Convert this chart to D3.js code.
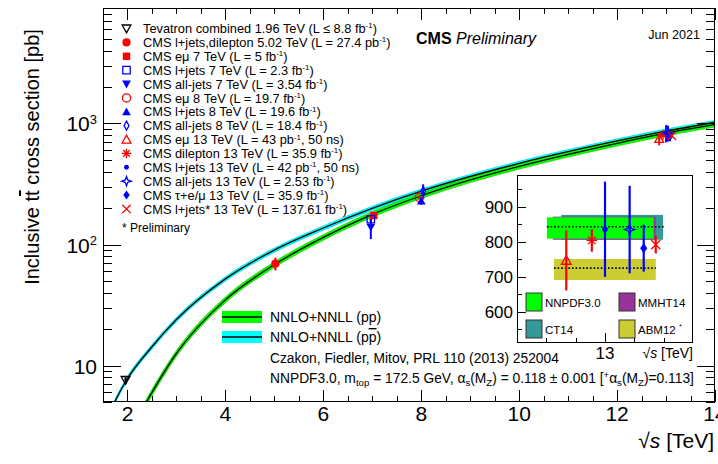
<!DOCTYPE html>
<html>
<head>
<meta charset="utf-8">
<script src="https://cdn.jsdelivr.net/npm/d3@7"></script>
<style>
  html, body { margin: 0; padding: 0; background: #fff; }
  svg { display: block; font-family: "Liberation Sans", Arial, Helvetica, sans-serif; }
</style>
</head>
<body>
<svg id="chart" width="718" height="464"></svg>
<script>
// ---------------- data ----------------
// NNLO+NNLL prediction, pp collisions (pb)
const sqrtsPP      = [2.0, 2.4, 3, 4, 5, 6, 7, 8, 9, 10, 11, 12, 13, 14];
const sigmaPP      = [2.6, 5.1, 12.6, 34.9, 68.2, 114.5, 177.3, 252.9, 341.7, 441.8, 555.4, 686.5, 831.8, 984.5];
const sigmaPPLow   = [2.45, 4.8, 11.9, 33.0, 64.6, 108.6, 168.3, 240.3, 324.8, 420.0, 528.0, 652.7, 790.8, 936.0];
const sigmaPPHigh  = [2.75, 5.4, 13.3, 36.8, 71.9, 120.6, 186.6, 265.7, 358.8, 463.6, 582.7, 720.2, 872.6, 1032.7];
// NNLO+NNLL prediction, p-pbar collisions (pb)
const sqrtsPPbar     = [1.5, 1.74, 1.96, 2.5, 3, 4, 5, 6, 7, 8, 10, 12, 13, 14];
const sigmaPPbar     = [2.9, 5.0, 7.35, 14.3, 24, 52, 90, 137, 199, 276, 468, 717, 865, 1019];
const sigmaPPbarLow  = [2.78, 4.8, 7.05, 13.7, 23.0, 49.9, 86.4, 131.5, 191.0, 265.0, 449.3, 688.3, 830.4, 978.2];
const sigmaPPbarHigh = [3.02, 5.2, 7.65, 14.9, 25.0, 54.1, 93.6, 142.5, 207.0, 287.0, 486.7, 745.7, 899.6, 1059.8];

// measurements
const measLabels = [
  "Tevatron combined 1.96 TeV (L \u2264 8.8 fb^{-1})",
  "CMS l+jets,dilepton 5.02 TeV (L = 27.4 pb^{-1})",
  "CMS e\u03bc 7 TeV (L = 5 fb^{-1})",
  "CMS l+jets 7 TeV (L = 2.3 fb^{-1})",
  "CMS all-jets 7 TeV (L = 3.54 fb^{-1})",
  "CMS e\u03bc 8 TeV (L = 19.7 fb^{-1})",
  "CMS l+jets 8 TeV (L = 19.6 fb^{-1})",
  "CMS all-jets 8 TeV (L = 18.4 fb^{-1})",
  "CMS e\u03bc 13 TeV (L = 43 pb^{-1}, 50 ns)",
  "CMS dilepton 13 TeV (L = 35.9 fb^{-1})",
  "CMS l+jets 13 TeV (L = 42 pb^{-1}, 50 ns)",
  "CMS all-jets 13 TeV (L = 2.53 fb^{-1})",
  "CMS \u03c4+e/\u03bc 13 TeV (L = 35.9 fb^{-1})",
  "CMS l+jets* 13 TeV (L = 137.61 fb^{-1})"
];
const measSqrtS  = [1.96, 5.02, 7.03, 6.97, 6.97, 7.96, 8.0, 8.04, 12.86, 12.94, 13.0, 13.04, 13.08, 13.12];
const measSigma  = [7.60, 69.5, 173.6, 161.7, 139, 244.9, 228.5, 275.6, 746, 803, 835, 834, 781, 791];
const measError  = [0.41, 8.4, 6.3, 8.0, 28, 9.1, 15.4, 39, 86, 32, 136, 125, 67, 25];
const measMarker = ["triDownOpen", "circle", "square", "squareOpen", "triDown", "circleOpen", "triUp",
                    "diamondOpen", "triUpOpen", "asterisk", "dot", "starOpen", "diamond", "cross"];
const measColor  = ["#000000", "#ff0000", "#ff0000", "#0000ff", "#0000ff", "#ff0000", "#0000ff",
                    "#0000ff", "#ff0000", "#ff0000", "#0000ff", "#0000ff", "#0000ff", "#ff0000"];
// horizontal display positions of the 13 TeV results in the zoomed panel
const insetIndex = [8, 9, 10, 11, 12, 13];
const insetSqrtS = [12.868, 12.955, 13.0, 13.084, 13.132, 13.173];

// 13 TeV predictions for different PDF sets (pb)
const pdfNames   = ["CT14", "MMHT14", "NNPDF3.0", "ABM12"];
const pdfColor   = ["#339999", "#993399", "#00ff00", "#cccc33"];
const pdfLow     = [805, 805, 808, 690];
const pdfHigh    = [876, 871, 869, 750];
const pdfFrom    = [12.851, 12.822, 12.802, 12.826];
const pdfTo      = [13.198, 13.173, 13.166, 13.173];
const pdfCentral = [null, null, 842, 724];

const xTicks = [2, 4, 6, 8, 10, 12, 14];

// ---------------- helpers ----------------
const svg = d3.select("#chart");
const M = { left: 103, right: 715, top: 8, bottom: 402 };

const x = d3.scaleLinear().domain([1.5, 14]).range([M.left, M.right]);
const y = d3.scaleLog().domain([5, 9000]).range([M.bottom, M.top]);

// text with ^{..} superscripts and _{..} subscripts
function richText(sel, str, size, scriptScale) {
  const sc = scriptScale || 0.62;
  const re = /([\^_])\{([^}]*)\}/g;
  let last = 0, m;
  const parts = [];
  while ((m = re.exec(str)) !== null) {
    if (m.index > last) parts.push({ t: str.slice(last, m.index), k: "n" });
    parts.push({ t: m[2], k: m[1] === "^" ? "sup" : "sub" });
    last = re.lastIndex;
  }
  if (last < str.length) parts.push({ t: str.slice(last), k: "n" });
  let shift = 0;
  parts.forEach(p => {
    const ts = sel.append("tspan").text(p.t);
    let target = 0;
    if (p.k === "sup") { ts.attr("font-size", size * sc); target = -size * 0.36; }
    if (p.k === "sub") { ts.attr("font-size", size * sc); target = size * 0.25; }
    if (target !== shift) { ts.attr("dy", target - shift); shift = target; }
  });
}

function drawMarker(g, type, cx, cy, color, s) {
  s = s || 1;
  const sw = 1.3;
  const r = 4.3 * s;
  const p = d3.path();
  let fill = color, stroke = "none";
  switch (type) {
    case "circle": case "circleOpen": case "dot": {
      const rr = type === "dot" ? 2.6 * s : r;
      p.arc(cx, cy, rr, 0, 2 * Math.PI);
      if (type === "circleOpen") { fill = "none"; stroke = color; }
      break;
    }
    case "square": case "squareOpen": {
      const h = 3.9 * s;
      p.rect(cx - h, cy - h, 2 * h, 2 * h);
      if (type === "squareOpen") { fill = "none"; stroke = color; }
      break;
    }
    case "triUp": case "triUpOpen": case "triDown": case "triDownOpen": {
      const up = type.startsWith("triUp") ? 1 : -1;
      const h = 4.6 * s;
      p.moveTo(cx, cy - up * h);
      p.lineTo(cx + h, cy + up * h * 0.8);
      p.lineTo(cx - h, cy + up * h * 0.8);
      p.closePath();
      if (type.endsWith("Open")) { fill = "none"; stroke = color; }
      break;
    }
    case "diamond": case "diamondOpen": {
      const hw = (type === "diamond" ? 3.4 : 2.6) * s, hh = 4.8 * s;
      p.moveTo(cx, cy - hh); p.lineTo(cx + hw, cy); p.lineTo(cx, cy + hh); p.lineTo(cx - hw, cy); p.closePath();
      if (type === "diamondOpen") { fill = "none"; stroke = color; }
      break;
    }
    case "asterisk": {
      const a = 5 * s;
      for (let k = 0; k < 4; k++) {
        const ang = k * Math.PI / 4;
        p.moveTo(cx - a * Math.cos(ang), cy - a * Math.sin(ang));
        p.lineTo(cx + a * Math.cos(ang), cy + a * Math.sin(ang));
      }
      fill = "none"; stroke = color;
      break;
    }
    case "cross": {
      const a = 4.4 * s;
      p.moveTo(cx - a, cy - a); p.lineTo(cx + a, cy + a);
      p.moveTo(cx - a, cy + a); p.lineTo(cx + a, cy - a);
      fill = "none"; stroke = color;
      break;
    }
    case "starOpen": {
      // open four-pointed star with notched arms
      const o = 5 * s, i = 1.8 * s;
      const pts = [];
      for (let k = 0; k < 8; k++) {
        const ang = -Math.PI / 2 + k * Math.PI / 4;
        const rr = k % 2 === 0 ? o : i;
        pts.push([cx + rr * Math.cos(ang), cy + rr * Math.sin(ang)]);
      }
      p.moveTo(pts[0][0], pts[0][1]);
      pts.slice(1).forEach(q => p.lineTo(q[0], q[1]));
      p.closePath();
      fill = "none"; stroke = color;
      break;
    }
  }
  g.append("path").attr("d", p.toString())
    .attr("fill", fill).attr("stroke", stroke).attr("stroke-width", sw);
}

// ---------------- main frame ----------------
const defs = svg.append("defs");
defs.append("clipPath").attr("id", "plotClip")
  .append("rect").attr("x", M.left).attr("y", M.top)
  .attr("width", M.right - M.left).attr("height", M.bottom - M.top);

const plot = svg.append("g").attr("clip-path", "url(#plotClip)");

// prediction bands
function bandArea(xs, lo, hi) {
  return d3.area().curve(d3.curveMonotoneX)
    .x((d, i) => x(xs[i])).y0((d, i) => y(lo[i])).y1((d, i) => y(hi[i]))(xs);
}
function centralLine(xs, v) {
  return d3.line().curve(d3.curveMonotoneX).x((d, i) => x(xs[i])).y((d, i) => y(v[i]))(xs);
}
plot.append("path").attr("d", bandArea(sqrtsPPbar, sigmaPPbarLow, sigmaPPbarHigh))
  .attr("fill", "#00ffff").attr("stroke", "#00d8ee").attr("stroke-width", 0.8);
plot.append("path").attr("d", bandArea(sqrtsPP, sigmaPPLow, sigmaPPHigh))
  .attr("fill", "#00ff00").attr("stroke", "#22cc00").attr("stroke-width", 0.8);
plot.append("path").attr("d", centralLine(sqrtsPPbar, sigmaPPbar))
  .attr("fill", "none").attr("stroke", "#000").attr("stroke-width", 1.3);
plot.append("path").attr("d", centralLine(sqrtsPP, sigmaPP))
  .attr("fill", "none").attr("stroke", "#000").attr("stroke-width", 1.3);

// measurements: error bars then markers
measSigma.forEach((v, i) => {
  const cx = x(measSqrtS[i]);
  plot.append("line")
    .attr("x1", cx).attr("x2", cx)
    .attr("y1", y(v - measError[i])).attr("y2", y(v + measError[i]))
    .attr("stroke", measColor[i]).attr("stroke-width", 2);
});
measSigma.forEach((v, i) => {
  drawMarker(plot, measMarker[i], x(measSqrtS[i]), y(v), measColor[i], 0.95);
});

// axes frame and ticks
const axes = svg.append("g").attr("stroke", "#000").attr("stroke-width", 1);
axes.append("rect").attr("x", M.left + 0.5).attr("y", M.top + 0.5)
  .attr("width", M.right - M.left - 1).attr("height", M.bottom - M.top - 1)
  .attr("fill", "none");

const xMinor = d3.range(1.5, 14.01, 0.5);
xMinor.forEach(v => {
  const px = Math.round(x(v)) + 0.5;
  const major = xTicks.includes(v);
  const len = major ? 12 : 6;
  axes.append("line").attr("x1", px).attr("x2", px).attr("y1", M.bottom).attr("y2", M.bottom - len);
  axes.append("line").attr("x1", px).attr("x2", px).attr("y1", M.top).attr("y2", M.top + len);
});

const yTickVals = [];
[1, 10, 100, 1000].forEach(d => { for (let k = 1; k <= 9; k++) yTickVals.push(d * k); });
yTickVals.filter(v => v >= 5 && v <= 9000).forEach(v => {
  const py = Math.round(y(v)) + 0.5;
  const major = [10, 100, 1000].includes(v);
  const len = major ? 18 : 9;
  axes.append("line").attr("x1", M.left).attr("x2", M.left + len).attr("y1", py).attr("y2", py);
  axes.append("line").attr("x1", M.right).attr("x2", M.right - len).attr("y1", py).attr("y2", py);
});

// tick labels
const labels = svg.append("g").attr("fill", "#000");
xTicks.forEach(v => {
  labels.append("text").attr("x", x(v)).attr("y", 421)
    .attr("text-anchor", "middle").attr("font-size", 21).text(v);
});
[["10", "", 10], ["10", "2", 100], ["10", "3", 1000]].forEach(([b, e, v]) => {
  const t = labels.append("text").attr("x", 97).attr("y", y(v) + 8)
    .attr("text-anchor", "end").attr("font-size", 21);
  if (e) richText(t, b + "^{" + e + "}", 21); else t.text(b);
});

// axis titles
const xt = labels.append("text").attr("x", 714).attr("y", 448)
  .attr("text-anchor", "end").attr("font-size", 21);
xt.append("tspan").text("\u221a");
xt.append("tspan").attr("font-style", "italic").text("s");
xt.append("tspan").text(" [TeV]");

const yt = labels.append("text")
  .attr("transform", "translate(39,157) rotate(-90)")
  .attr("text-anchor", "middle").attr("font-size", 20);
yt.append("tspan").text("Inclusive t");
yt.append("tspan").attr("text-decoration", "overline").text("t");
yt.append("tspan").text(" cross section [pb]");

// ---------------- legend of measurements ----------------
const leg = svg.append("g");
measLabels.forEach((lab, i) => {
  const ly = 28.5 + i * 13.88;
  drawMarker(leg, measMarker[i], 126.5, ly, measColor[i], 0.95);
  const t = leg.append("text").attr("x", 143).attr("y", ly + 4.6).attr("font-size", 12.8);
  richText(t, lab, 12.8);
});
leg.append("text").attr("x", 122).attr("y", 232).attr("font-size", 12).text("* Preliminary");

// CMS label and date
const cms = svg.append("text").attr("x", 416).attr("y", 44).attr("font-size", 16);
cms.append("tspan").attr("font-weight", "bold").text("CMS ");
cms.append("tspan").attr("font-style", "italic").text("Preliminary");
svg.append("text").attr("x", 700).attr("y", 39).attr("text-anchor", "end")
  .attr("font-size", 12.6).text("Jun 2021");

// ---------------- prediction legend and notes ----------------
const pl = svg.append("g");
pl.append("rect").attr("x", 222).attr("y", 311).attr("width", 40).attr("height", 12).attr("fill", "#00ff00");
pl.append("line").attr("x1", 222).attr("x2", 262).attr("y1", 317).attr("y2", 317).attr("stroke", "#000").attr("stroke-width", 1.3);
pl.append("rect").attr("x", 222).attr("y", 331).attr("width", 40).attr("height", 12).attr("fill", "#00ffff");
pl.append("line").attr("x1", 222).attr("x2", 262).attr("y1", 337).attr("y2", 337).attr("stroke", "#000").attr("stroke-width", 1.3);
pl.append("text").attr("x", 270).attr("y", 322).attr("font-size", 14).text("NNLO+NNLL (pp)");
const ppb = pl.append("text").attr("x", 270).attr("y", 342).attr("font-size", 14);
ppb.append("tspan").text("NNLO+NNLL (p");
ppb.append("tspan").attr("text-decoration", "overline").text("p");
ppb.append("tspan").text(")");
pl.append("text").attr("x", 270).attr("y", 363).attr("font-size", 13.8)
  .text("Czakon, Fiedler, Mitov, PRL 110 (2013) 252004");
const note = pl.append("text").attr("x", 270).attr("y", 382.5).attr("font-size", 13.8);
richText(note, "NNPDF3.0, m_{top} = 172.5 GeV, \u03b1_{s}(M_{Z}) = 0.118 \u00b1 0.001 [^{+}\u03b1_{s}(M_{Z})=0.113]", 13.8, 0.7);

// ---------------- 13 TeV zoomed panel ----------------
const I = { left: 517, right: 693, top: 175, bottom: 343 };
const ix = d3.scaleLinear().domain([12.7, 13.3]).range([I.left, I.right]);
const iy = d3.scaleLinear().domain([510, 990]).range([I.bottom, I.top]);
const ins = svg.append("g");
ins.append("rect").attr("x", I.left).attr("y", I.top)
  .attr("width", I.right - I.left).attr("height", I.bottom - I.top).attr("fill", "#fff");

pdfNames.forEach((n, i) => {
  ins.append("rect")
    .attr("x", ix(pdfFrom[i])).attr("width", ix(pdfTo[i]) - ix(pdfFrom[i]))
    .attr("y", iy(pdfHigh[i])).attr("height", iy(pdfLow[i]) - iy(pdfHigh[i]))
    .attr("fill", pdfColor[i]);
});
pdfNames.forEach((n, i) => {
  if (pdfCentral[i] === null) return;
  const xEnd = i === 2 ? ix(13.2) : ix(pdfTo[i]);
  ins.append("line").attr("x1", ix(pdfFrom[i])).attr("x2", xEnd)
    .attr("y1", iy(pdfCentral[i])).attr("y2", iy(pdfCentral[i]))
    .attr("stroke", "#000").attr("stroke-width", 1.6).attr("stroke-dasharray", "1.6,2");
});

insetIndex.forEach((mi, k) => {
  const cx = ix(insetSqrtS[k]);
  ins.append("line").attr("x1", cx).attr("x2", cx)
    .attr("y1", iy(measSigma[mi] - measError[mi])).attr("y2", iy(measSigma[mi] + measError[mi]))
    .attr("stroke", measColor[mi]).attr("stroke-width", 2.2);
});
insetIndex.forEach((mi, k) => {
  drawMarker(ins, measMarker[mi], ix(insetSqrtS[k]), iy(measSigma[mi]), measColor[mi], 1.05);
});

// panel legend
const boxes = [
  { name: "NNPDF3.0", col: 2, bx: 526, by: 293 },
  { name: "MMHT14", col: 1, bx: 619, by: 293 },
  { name: "CT14", col: 0, bx: 526, by: 320 },
  { name: "ABM12", col: 3, bx: 619, by: 320 }
];
boxes.forEach(b => {
  ins.append("rect").attr("x", b.bx).attr("y", b.by).attr("width", 16).attr("height", 18)
    .attr("fill", pdfColor[b.col]).attr("stroke", "#333").attr("stroke-width", 1);
  const t = ins.append("text").attr("x", b.bx + 19).attr("y", b.by + 13.5).attr("font-size", 11.5);
  if (b.name === "ABM12") richText(t, "ABM12 ^{*}", 11.5); else t.text(b.name);
});

// panel frame and ticks
const ia = ins.append("g").attr("stroke", "#000").attr("stroke-width", 1);
ia.append("rect").attr("x", I.left + 0.5).attr("y", I.top + 0.5)
  .attr("width", I.right - I.left - 1).attr("height", I.bottom - I.top - 1).attr("fill", "none");
d3.range(550, 990, 50).forEach(v => {
  const py = Math.round(iy(v)) + 0.5;
  const len = v % 100 === 0 ? 9 : 5;
  ia.append("line").attr("x1", I.left).attr("x2", I.left + len).attr("y1", py).attr("y2", py);
});
[12.8, 12.9, 13.0, 13.1, 13.2].forEach(v => {
  const px = Math.round(ix(v)) + 0.5;
  const len = Math.abs(v - 13) < 1e-6 ? 10 : 5;
  ia.append("line").attr("x1", px).attr("x2", px).attr("y1", I.bottom).attr("y2", I.bottom - len);
});
[600, 700, 800, 900].forEach(v => {
  ins.append("text").attr("x", 513).attr("y", iy(v) + 6).attr("text-anchor", "end")
    .attr("font-size", 17).text(v);
});
ins.append("text").attr("x", ix(13)).attr("y", 359).attr("text-anchor", "middle")
  .attr("font-size", 17).text("13");
const ixt = ins.append("text").attr("x", 693).attr("y", 358).attr("text-anchor", "end").attr("font-size", 14);
ixt.append("tspan").text("\u221a");
ixt.append("tspan").attr("font-style", "italic").text("s");
ixt.append("tspan").text(" [TeV]");
</script>
</body>
</html>
